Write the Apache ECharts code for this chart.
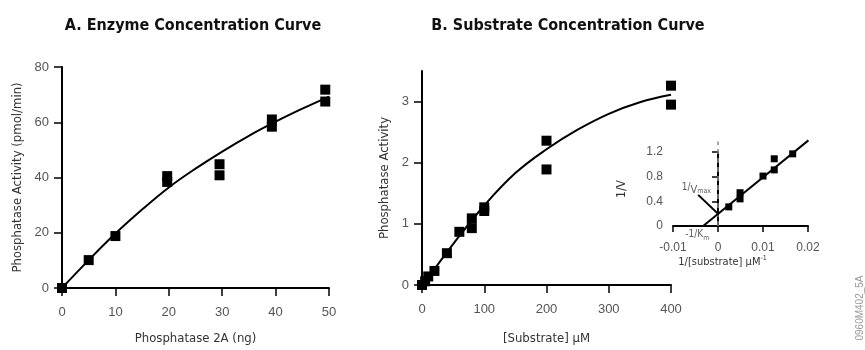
<!DOCTYPE html>
<html>
<head>
<meta charset="utf-8">
<script src="https://cdn.jsdelivr.net/npm/echarts@6/dist/echarts.min.js"></script>
<style>
  html, body { margin: 0; padding: 0; background: #fff; }
  #chart { width: 865px; height: 350px; }
</style>
</head>
<body>
<div id="chart"></div>
<script>
// A. enzyme concentration
const enzymeNg = [0, 5, 10, 19.7, 19.7, 29.5, 29.5, 39.3, 39.3, 49.3, 49.3];
const enzymeActivity = [0, 10.1, 18.8, 38.4, 40.5, 40.8, 44.8, 58.4, 61, 67.5, 71.8];
const enzymeFitNg = [0, 5, 10, 15, 20, 25, 30, 35, 40, 45, 50];
const enzymeFit = [0, 10.1, 19.7, 28.4, 36.4, 43.2, 49.4, 55.1, 60.2, 64.9, 69.3];

// B. substrate concentration
const substrateUM = [0, 5, 10, 20, 40, 60, 80, 80, 100, 100, 200, 200, 400, 400];
const substrateActivity = [0, 0.06, 0.14, 0.23, 0.52, 0.87, 0.93, 1.09, 1.21, 1.27, 1.89, 2.36, 2.95, 3.26];
const substrateFitUM = [0, 25, 50, 100, 150, 200, 250, 300, 350, 400];
const substrateFit = [0, 0.33, 0.67, 1.3, 1.83, 2.22, 2.54, 2.8, 2.99, 3.11];

// inset: double reciprocal
const invSubstrate = [0.0024, 0.0049, 0.0049, 0.01, 0.0125, 0.0125, 0.0166];
const invVelocity = [0.31, 0.44, 0.54, 0.81, 0.91, 1.09, 1.17];
const lbFitX = [-0.0033, 0.0201];
const lbFitY = [0, 1.39];
const vmaxLeaderX = [-0.0044, 0];
const vmaxLeaderY = [0.505, 0.2];
const zeroLineY = [0, 1.37];

const narrow = '"DejaVu Sans Condensed", "Liberation Sans Narrow", sans-serif';
const plain = '"Liberation Sans", Arial, sans-serif';

const zip = (xs, ys) => xs.map((x, i) => [x, ys[i]]);

function axisBase(extra) {
  return Object.assign({
    type: 'value',
    splitLine: { show: false },
    axisLine: { lineStyle: { color: '#000', width: 2 } },
    axisTick: { inside: false, length: 8, lineStyle: { color: '#000', width: 1.5 } },
    axisLabel: { color: '#555', fontFamily: plain, fontSize: 13, margin: 13 },
    nameLocation: 'middle',
    nameTextStyle: { color: '#333', fontFamily: narrow, fontSize: 13 },
  }, extra);
}
const xLabel = { color: '#555', fontFamily: plain, fontSize: 13, margin: 18 };
const dot = { color: '#000', opacity: 1 };

const chart = echarts.init(document.getElementById('chart'));
chart.setOption({
  animation: false,
  title: [
    { text: 'A. Enzyme Concentration Curve', left: 188, top: 13, textAlign: 'center',
      textStyle: { fontFamily: narrow, fontWeight: 'bold', fontSize: 16, color: '#111' } },
    { text: 'B. Substrate Concentration Curve', left: 563, top: 13, textAlign: 'center',
      textStyle: { fontFamily: narrow, fontWeight: 'bold', fontSize: 16, color: '#111' } },
  ],
  grid: [
    { left: 62, right: 536, top: 67, bottom: 62 },
    { left: 422, right: 194, top: 71, bottom: 58 },
    { left: 673, right: 57, top: 152, bottom: 124 },
  ],
  xAxis: [
    axisBase({ gridIndex: 0, min: 0, max: 50, interval: 10, name: 'Phosphatase 2A (ng)', nameGap: 44,
      axisLabel: xLabel }),
    axisBase({ gridIndex: 1, min: 0, max: 400, interval: 100, name: '[Substrate] μM', nameGap: 47,
      axisLabel: xLabel }),
    axisBase({ gridIndex: 2, min: -0.01, max: 0.02, interval: 0.01,
      name: '1/[substrate] μM{sup|-1}', nameGap: 29,
      axisTick: { length: 6, lineStyle: { color: '#000', width: 1.5 } },
      axisLabel: { color: '#555', fontFamily: plain, fontSize: 12, margin: 16 },
      nameTextStyle: { color: '#333', fontFamily: narrow, fontSize: 11, padding: [0, 36, 0, 0],
        rich: { sup: { fontSize: 7, padding: [0, 0, 7, 0], color: '#333', fontFamily: narrow } } } }),
  ],
  yAxis: [
    axisBase({ gridIndex: 0, min: 0, max: 80, interval: 20, name: 'Phosphatase Activity (pmol/min)', nameGap: 38 }),
    axisBase({ gridIndex: 1, min: 0, max: 3.5, interval: 1, name: 'Phosphatase Activity', nameGap: 31,
      axisTick: { length: 8, customValues: [0, 1, 2, 3], lineStyle: { color: '#000', width: 1.5 } },
      axisLabel: { color: '#555', fontFamily: plain, fontSize: 13, margin: 13, customValues: [0, 1, 2, 3] } }),
    axisBase({ gridIndex: 2, min: 0, max: 1.2, interval: 0.4, name: '1/V', nameGap: 45,
      axisTick: { length: 6, lineStyle: { color: '#000', width: 1.5 } },
      axisLabel: { color: '#555', fontFamily: plain, fontSize: 12, margin: 10 },
      nameTextStyle: { color: '#333', fontFamily: narrow, fontSize: 12 } }),
  ],
  series: [
    { type: 'line', xAxisIndex: 0, yAxisIndex: 0, data: zip(enzymeFitNg, enzymeFit), smooth: 0.4,
      showSymbol: false, lineStyle: { color: '#000', width: 2 } },
    { type: 'scatter', xAxisIndex: 0, yAxisIndex: 0, data: zip(enzymeNg, enzymeActivity),
      symbol: 'rect', symbolSize: 10, itemStyle: dot },

    { type: 'line', xAxisIndex: 1, yAxisIndex: 1, data: zip(substrateFitUM, substrateFit), smooth: 0.4,
      showSymbol: false, lineStyle: { color: '#000', width: 2 } },
    { type: 'scatter', xAxisIndex: 1, yAxisIndex: 1, data: zip(substrateUM, substrateActivity),
      symbol: 'rect', symbolSize: 10, itemStyle: dot },

    { type: 'line', xAxisIndex: 2, yAxisIndex: 2, data: zip([0, 0], zeroLineY), clip: false,
      showSymbol: false, lineStyle: { color: '#888', width: 1.5, type: [5, 4] } },
    { type: 'line', xAxisIndex: 2, yAxisIndex: 2, data: zip(lbFitX, lbFitY), clip: false,
      showSymbol: false, lineStyle: { color: '#000', width: 2 } },
    { type: 'line', xAxisIndex: 2, yAxisIndex: 2, data: zip(vmaxLeaderX, vmaxLeaderY), clip: false,
      showSymbol: false, lineStyle: { color: '#000', width: 2 } },
    { type: 'scatter', xAxisIndex: 2, yAxisIndex: 2, data: zip(invSubstrate, invVelocity),
      symbol: 'rect', symbolSize: 7, itemStyle: dot },
    { type: 'scatter', xAxisIndex: 2, yAxisIndex: 2, clip: false, symbolSize: 0,
      data: [
        { value: [-0.0048, 0.63], label: { formatter: '{n|1/}{v|V}{s|max}' } },
        { value: [-0.0046, -0.13], label: { formatter: '{n|-1/K}{s|m}' } },
      ],
      label: { show: true, position: 'inside', color: '#333',
        rich: {
          n: { fontFamily: narrow, fontSize: 10, color: '#333' },
          v: { fontFamily: narrow, fontSize: 11, color: '#333', padding: [6, 0, 0, 0] },
          s: { fontFamily: narrow, fontSize: 7, color: '#333', padding: [8, 0, 0, 0] },
        } } },
  ],
  graphic: [
    { type: 'text', x: 860, y: 308, rotation: Math.PI / 2,
      style: { text: '0960M402_5A', fill: '#999', font: '10px ' + plain, align: 'center', verticalAlign: 'middle' } },
  ],
});
window.addEventListener('resize', () => chart.resize());
</script>
</body>
</html>
